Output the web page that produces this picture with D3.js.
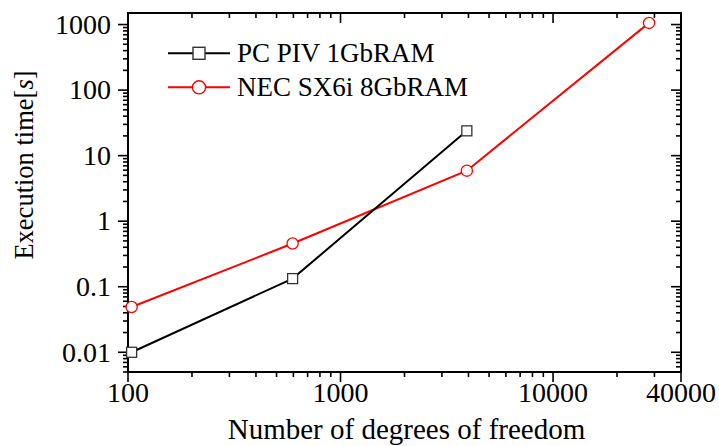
<!DOCTYPE html>
<html><head><meta charset="utf-8">
<script src="https://cdn.jsdelivr.net/npm/d3@7"></script>
<style>body{margin:0;background:#fff}svg{display:block}text{font-family:"Liberation Serif","Times New Roman",serif}</style>
</head><body>
<svg id="c" width="719" height="446"></svg>
<script>
const pcDof = [104, 595, 3930];
const pcTime = [0.0100, 0.133, 23.9];
const necDof = [104, 595, 3930, 28300];
const necTime = [0.049, 0.456, 5.9, 1060];
const xTickLabels = [100, 1000, 10000, 40000];
const yTickLabels = [0.01, 0.1, 1, 10, 100, 1000];
const seriesNames = ["PC PIV 1GbRAM", "NEC SX6i 8GbRAM"];

const W = 719, H = 446;
const m = {l:128, r:38, t:13, b:74};
const svg = d3.select("#c");
const x = d3.scaleLog().domain([100, 40000]).range([m.l, W - m.r]);
const y = d3.scaleLog().domain([0.005, 1500]).range([H - m.b, m.t]);

const xMinor = [];
[100,1000,10000].forEach(d => { for (let k=2;k<=9;k++){ const v=d*k; if (v<40000) xMinor.push(v);} });
const yMinor = [];
[0.001,0.01,0.1,1,10,100,1000].forEach(d => { for (let k=2;k<=9;k++){ const v=d*k; if (v>=0.005 && v<=1500) yMinor.push(v);} });

const g = svg.append("g").attr("stroke","#000").attr("stroke-width",1.6);
const x0 = m.l, x1 = W - m.r, y0 = H - m.b, y1 = m.t;
xMinor.forEach(v => {
  g.append("line").attr("x1",x(v)).attr("x2",x(v)).attr("y1",y0).attr("y2",y0+5);
  g.append("line").attr("x1",x(v)).attr("x2",x(v)).attr("y1",y1).attr("y2",y1+5);
});
xTickLabels.forEach(v => {
  g.append("line").attr("x1",x(v)).attr("x2",x(v)).attr("y1",y0).attr("y2",y0+10);
  g.append("line").attr("x1",x(v)).attr("x2",x(v)).attr("y1",y1).attr("y2",y1+10);
});
yMinor.forEach(v => {
  g.append("line").attr("y1",y(v)).attr("y2",y(v)).attr("x1",x0).attr("x2",x0-5);
  g.append("line").attr("y1",y(v)).attr("y2",y(v)).attr("x1",x1).attr("x2",x1-5);
});
yTickLabels.forEach(v => {
  g.append("line").attr("y1",y(v)).attr("y2",y(v)).attr("x1",x0).attr("x2",x0-10);
  g.append("line").attr("y1",y(v)).attr("y2",y(v)).attr("x1",x1).attr("x2",x1-10);
});
svg.append("rect").attr("x",x0).attr("y",y1).attr("width",x1-x0).attr("height",y0-y1)
  .attr("fill","none").attr("stroke","#000").attr("stroke-width",2);

svg.append("g").selectAll("text").data(xTickLabels).join("text")
  .attr("x",d=>x(d)).attr("y",y0+30).attr("text-anchor","middle")
  .attr("font-size",28).text(d=>d);
svg.append("g").selectAll("text").data(yTickLabels).join("text")
  .attr("x",x0-17).attr("y",d=>y(d)).attr("dy","0.33em").attr("text-anchor","end")
  .attr("font-size",28).text(d=>d);

svg.append("text").attr("x",(x0+x1)/2 + 2).attr("y",439).attr("text-anchor","middle")
  .attr("font-size",29).text("Number of degrees of freedom");
const yt = svg.append("text").attr("transform","translate(33,165) rotate(-90)").attr("text-anchor","middle")
  .attr("font-size",26.5);
yt.append("tspan").text("Execution time[");
yt.append("tspan").attr("font-style","italic").text("s");
yt.append("tspan").text("]");

const line = d3.line().x(d=>x(d[0])).y(d=>y(d[1]));
const pc = pcDof.map((d,i)=>[d,pcTime[i]]);
const nec = necDof.map((d,i)=>[d,necTime[i]]);
svg.append("path").datum(nec).attr("d",line).attr("fill","none").attr("stroke","#ff0000").attr("stroke-width",2);
svg.append("path").datum(pc).attr("d",line).attr("fill","none").attr("stroke","#000").attr("stroke-width",2);
svg.append("g").selectAll("circle").data(nec).join("circle")
  .attr("cx",d=>x(d[0])).attr("cy",d=>y(d[1])).attr("r",5.6)
  .attr("fill","#fff").attr("stroke","#ff0000").attr("stroke-width",1.3);
svg.append("g").selectAll("rect").data(pc).join("rect")
  .attr("x",d=>x(d[0])-5).attr("y",d=>y(d[1])-5).attr("width",10).attr("height",10)
  .attr("fill","#fff").attr("stroke","#333").attr("stroke-width",1.3);

const lg = svg.append("g");
const ly = [53.3, 87.3];
lg.append("line").attr("x1",168).attr("x2",230).attr("y1",ly[0]).attr("y2",ly[0]).attr("stroke","#000").attr("stroke-width",2);
lg.append("rect").attr("x",193).attr("y",ly[0]-6).attr("width",12).attr("height",12).attr("fill","#fff").attr("stroke","#333").attr("stroke-width",1.4);
lg.append("line").attr("x1",168).attr("x2",230).attr("y1",ly[1]).attr("y2",ly[1]).attr("stroke","#ff0000").attr("stroke-width",2);
lg.append("circle").attr("cx",199).attr("cy",ly[1]).attr("r",6.6).attr("fill","#fff").attr("stroke","#ff0000").attr("stroke-width",1.4);
lg.selectAll("text").data(seriesNames).join("text")
  .attr("x",237).attr("y",(d,i)=>ly[i]).attr("dy","0.34em")
  .attr("font-size",27).text(d=>d);
</script>
</body></html>
